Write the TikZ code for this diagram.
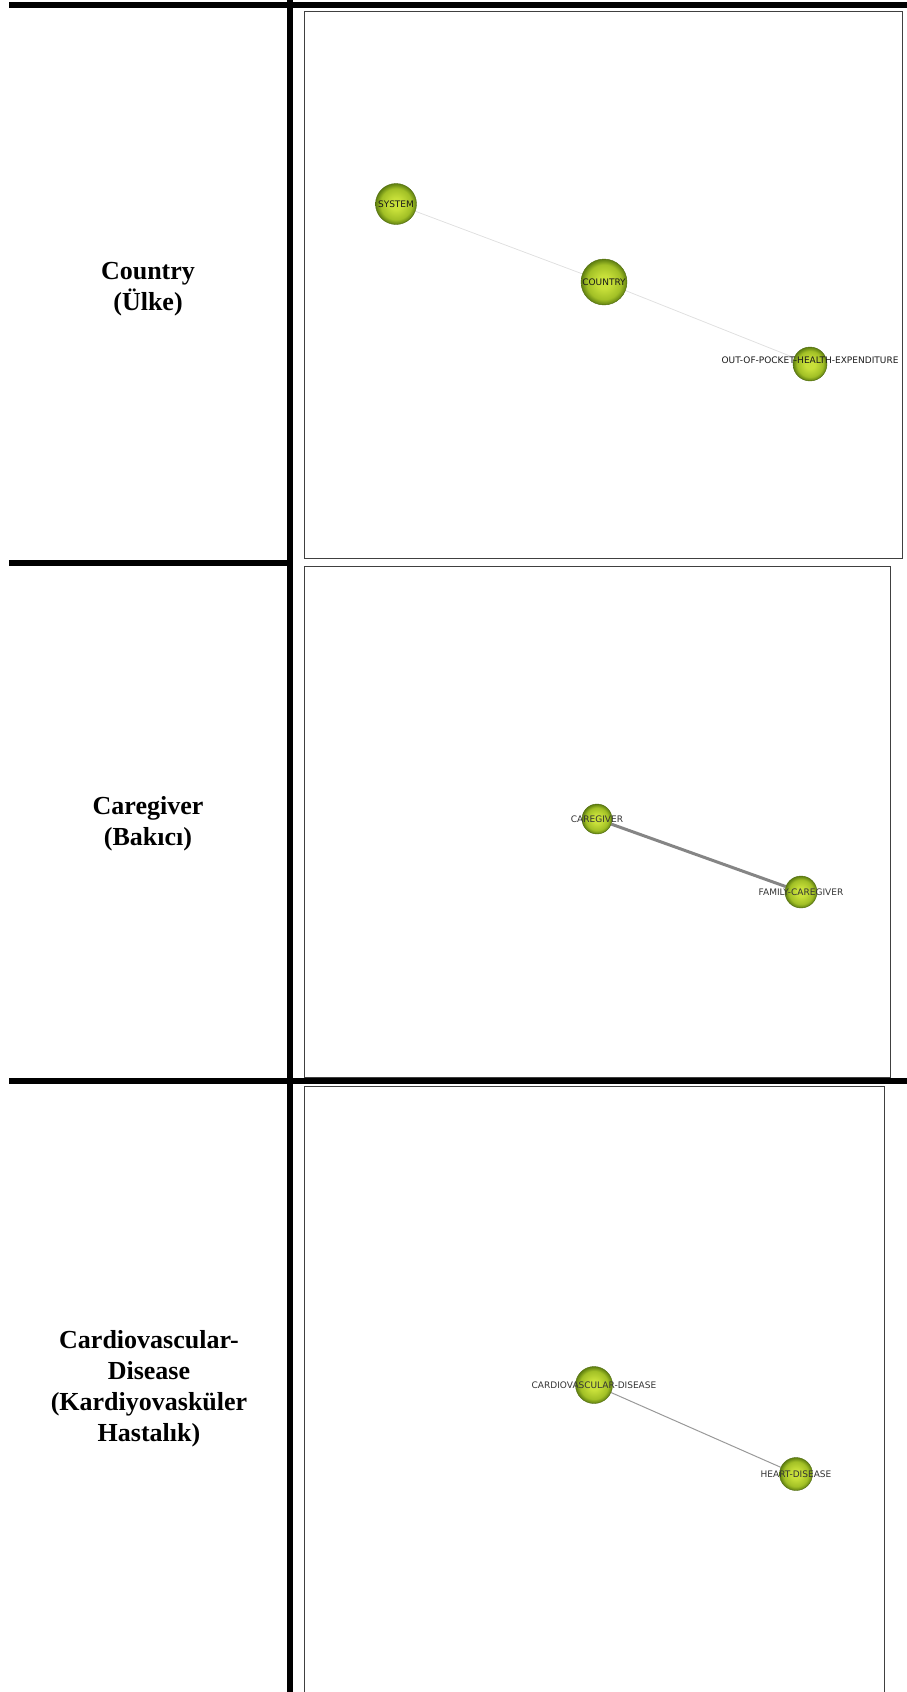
\documentclass[tikz,border=0pt]{standalone}
\usepackage{fontspec}
\setmainfont{Liberation Serif}
\newfontfamily\netfont{DejaVu Sans}
\usetikzlibrary{backgrounds}

\definecolor{ballin}{HTML}{C8E03A}
\definecolor{ballmid}{HTML}{A2C026}
\definecolor{ballout}{HTML}{5E7E10}
\pgfdeclareradialshading{kwball}{\pgfpoint{0bp}{0bp}}{color(0bp)=(ballin); color(7bp)=(ballin); color(19bp)=(ballmid); color(25bp)=(ballout); color(50bp)=(ballout)}

\tikzset{
  kwnode/.style={circle, draw=ballout!85!black, line width=0.4pt, shading=kwball, inner sep=0pt},
  kwlabel/.style={font=\netfont\fontsize{9}{9}\selectfont, text=black!80, inner sep=0pt},
  rowtitle/.style={font=\fontsize{26}{31}\selectfont\bfseries, align=center},
  tablerule/.style={line width=6pt},
  netframe/.style={draw=black!75, line width=1pt},
}

\begin{document}
\begin{tikzpicture}[x=1pt,y=-1pt]
\useasboundingbox (0,0) rectangle (907,1692);
% table
\draw[tablerule] (9,5) -- (907,5);
\draw[tablerule] (290,0) -- (290,1692);
\draw[tablerule] (9,563) -- (290,563);
\draw[tablerule] (9,1081) -- (907,1081);
\draw[netframe] (304,11) rectangle (902,558);
\draw[netframe] (304,566) rectangle (890,1077);
\draw[netframe] (884,1692) -- (884,1086) -- (304,1086) -- (304,1692);

\node[rowtitle] (ctitle) at (148,289) {Country\\(Ülke)};
\node[rowtitle] (gtitle) at (148,824) {Caregiver\\(Bakıcı)};
\node[rowtitle] (dtitle) at (149,1389) {Cardiovascular-\\Disease\\(Kardiyovasküler\\Hastalık)};

% country
\node[kwnode, minimum size=41pt, label={[kwlabel, text=black!90]center:SYSTEM}] (system) at (396,204) {};
\node[kwnode, minimum size=46pt, label={[kwlabel, text=black!90]center:COUNTRY}] (country) at (604,282) {};
\node[kwnode, minimum size=34pt] (oop) at (810,364) {};
\node[kwlabel, text=black!90] (ooplabel) at (810,360) {OUT-OF-POCKET-HEALTH-EXPENDITURE};

% caregiver
\node[kwnode, minimum size=30pt, label={[kwlabel]center:CAREGIVER}] (caregiver) at (597,819) {};
\node[kwnode, minimum size=32pt, label={[kwlabel]center:FAMILY-CAREGIVER}] (family) at (801,892) {};

% cardiovascular disease
\node[kwnode, minimum size=37pt, label={[kwlabel]center:CARDIOVASCULAR-DISEASE}] (cvd) at (594,1385) {};
\node[kwnode, minimum size=33pt, label={[kwlabel]center:HEART-DISEASE}] (heart) at (796,1474) {};

\begin{scope}[on background layer]
\draw[black!12, line width=0.8pt] (system) -- (country) -- (oop);
\draw[black!48, line width=3pt] (caregiver) -- (family);
\draw[black!40, line width=1pt] (cvd) -- (heart);
\end{scope}
\end{tikzpicture}
\end{document}
